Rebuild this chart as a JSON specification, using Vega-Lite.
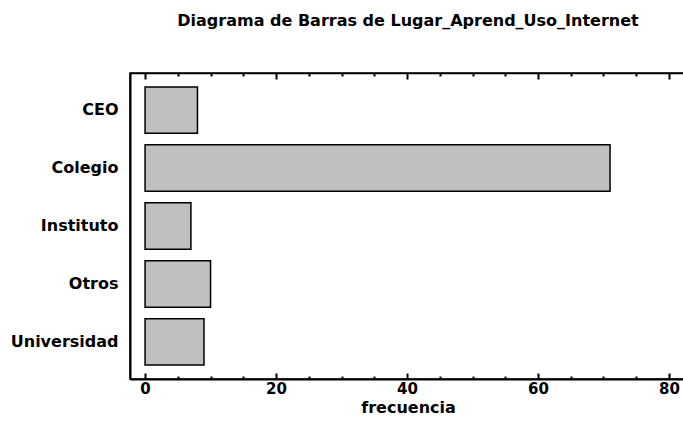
{
  "$schema": "https://vega.github.io/schema/vega-lite/v6.json",
  "width": 556,
  "height": 306,
  "autosize": {"type": "none"},
  "padding": {"left": 130, "top": 73, "right": 0, "bottom": 46},
  "background": "white",
  "title": {
    "text": "Diagrama de Barras de Lugar_Aprend_Uso_Internet",
    "font": "DejaVu Sans",
    "fontSize": 16,
    "fontWeight": "bold",
    "color": "black",
    "anchor": "middle",
    "offset": 43
  },
  "data": {
    "values": [
      {"lugar": "CEO", "frecuencia": 8},
      {"lugar": "Colegio", "frecuencia": 71},
      {"lugar": "Instituto", "frecuencia": 7},
      {"lugar": "Otros", "frecuencia": 10},
      {"lugar": "Universidad", "frecuencia": 9}
    ]
  },
  "layer": [
    {
      "mark": {"type": "bar", "fill": "#C0C0C0", "stroke": "black", "strokeWidth": 1.5},
      "encoding": {
        "y": {
          "field": "lugar",
          "type": "nominal",
          "sort": null,
          "scale": {"paddingInner": 0.2, "paddingOuter": 0.24},
          "axis": {
            "title": null,
            "ticks": false,
            "labelPadding": 12,
            "labelFont": "DejaVu Sans",
            "labelFontSize": 16,
            "labelFontWeight": "bold",
            "labelColor": "black",
            "domainColor": "black",
            "domainWidth": 2
          }
        },
        "x": {
          "field": "frecuencia",
          "type": "quantitative",
          "scale": {"domain": [-2.3, 82.6], "nice": false, "zero": false},
          "axis": {
            "orient": "bottom",
            "title": "frecuencia",
            "titleFont": "DejaVu Sans",
            "titleFontSize": 16,
            "titleFontWeight": "bold",
            "titleColor": "black",
            "titlePadding": 3,
            "values": [0, 5, 10, 15, 20, 25, 30, 35, 40, 45, 50, 55, 60, 65, 70, 75, 80],
            "labelExpr": "datum.value % 20 === 0 ? datum.label : ''",
            "labelFont": "DejaVu Sans",
            "labelFontSize": 15,
            "labelFontWeight": "bold",
            "labelColor": "black",
            "labelPadding": 8,
            "grid": false,
            "domainColor": "black",
            "domainWidth": 2,
            "tickColor": "black",
            "tickWidth": 2,
            "tickSize": {"condition": {"test": "datum.value % 20 === 0", "value": -6}, "value": -3}
          }
        }
      }
    },
    {
      "mark": {"type": "rule", "strokeOpacity": 0},
      "encoding": {
        "y": {"field": "lugar", "type": "nominal", "sort": null},
        "x": {
          "field": "frecuencia",
          "type": "quantitative",
          "axis": {
            "orient": "top",
            "title": null,
            "labels": false,
            "grid": false,
            "values": [0, 5, 10, 15, 20, 25, 30, 35, 40, 45, 50, 55, 60, 65, 70, 75, 80],
            "domainColor": "black",
            "domainWidth": 1.5,
            "tickColor": "black",
            "tickWidth": 2,
            "tickSize": {"condition": {"test": "datum.value % 20 === 0", "value": -6}, "value": -3}
          }
        }
      }
    }
  ],
  "resolve": {"axis": {"x": "independent"}},
  "config": {"view": {"stroke": "black", "strokeWidth": 1.5}}
}
